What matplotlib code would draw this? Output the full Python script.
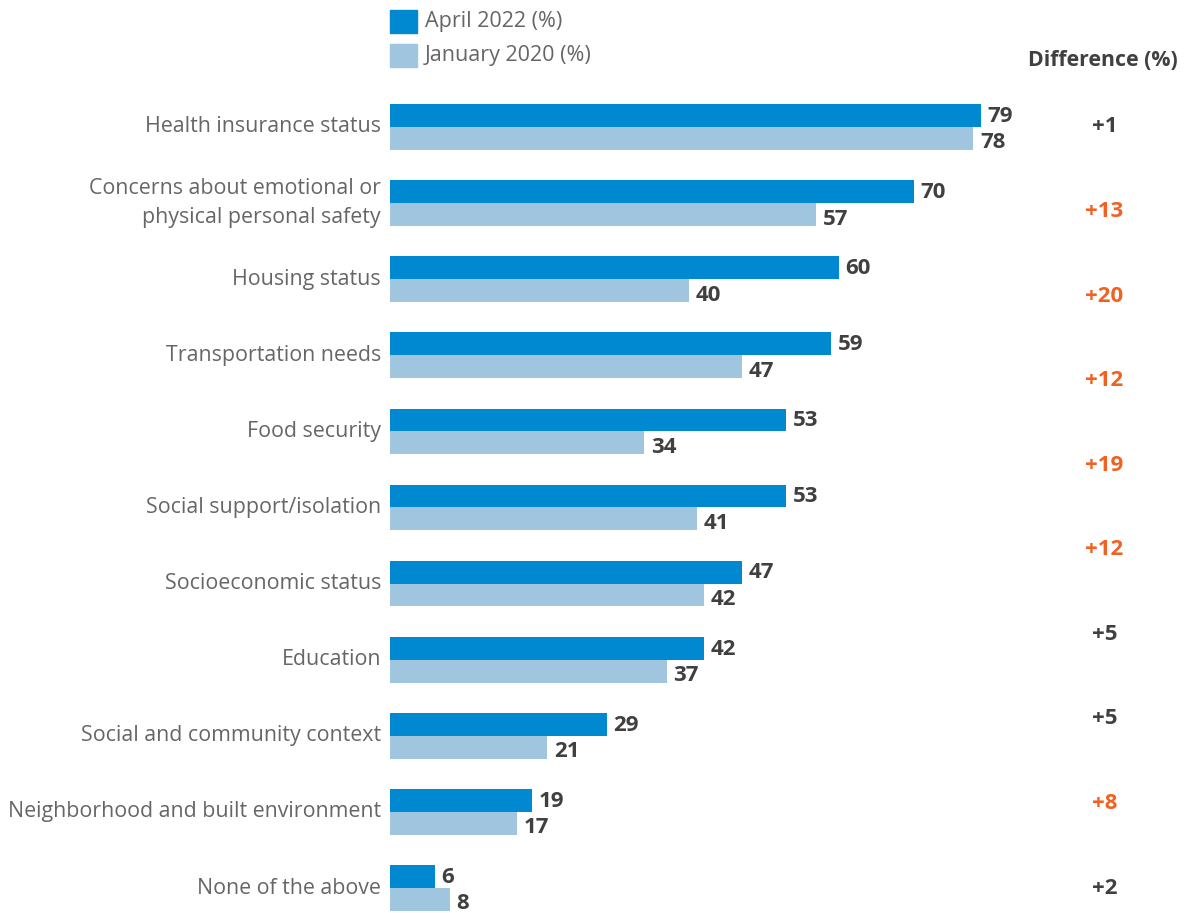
import numpy as np
import matplotlib.pyplot as plt
from matplotlib.patches import Rectangle

# ---------------------------------------------------------------------
# DATA
# ---------------------------------------------------------------------
categories = [
    "Health insurance status",
    "Concerns about emotional or\nphysical personal safety",
    "Housing status",
    "Transportation needs",
    "Food security",
    "Social support/isolation",
    "Socioeconomic status",
    "Education",
    "Social and community context",
    "Neighborhood and built environment",
    "None of the above",
]
april_2022 = [79, 70, 60, 59, 53, 53, 47, 42, 29, 19, 6]
january_2020 = [78, 57, 40, 47, 34, 41, 42, 37, 21, 17, 8]
differences = ["+1", "+13", "+20", "+12", "+19", "+12", "+5", "+5", "+8", "+2"]
highlighted = [False, True, True, True, True, True, False, False, True, False]

# ---------------------------------------------------------------------
# STYLE
# ---------------------------------------------------------------------
DARK_BLUE = "#0089d0"
LIGHT_BLUE = "#9fc5df"
LABEL_GREY = "#666666"
VALUE_GREY = "#404040"
ORANGE = "#f26122"
FONT = "Open Sans"

plt.rcParams["font.family"] = [FONT, "DejaVu Sans"]

W, H = 1185, 913
fig = plt.figure(figsize=(W / 100, H / 100), dpi=100)
ax = fig.add_axes([390 / W, 0, 1 - 390 / W, 1])

y = np.arange(len(categories))
bar_h = 0.30

ax.barh(y - bar_h / 2, april_2022, height=bar_h, color=DARK_BLUE)
ax.barh(y + bar_h / 2, january_2020, height=bar_h, color=LIGHT_BLUE)

for yi, a, j in zip(y, april_2022, january_2020):
    ax.text(a + 0.9, yi - bar_h / 2 + 0.01, str(a), ha="left", va="center",
            fontsize=16, fontweight="bold", color=VALUE_GREY)
    ax.text(j + 0.9, yi + bar_h / 2 + 0.06, str(j), ha="left", va="center",
            fontsize=16, fontweight="bold", color=VALUE_GREY)

# category labels to the left of the bars
for yi, cat in zip(y, categories):
    ax.text(-1.2, yi, cat, ha="right", va="center", fontsize=15.4,
            color=LABEL_GREY, linespacing=1.45, clip_on=False)

# difference column, spread evenly from first to last row
diff_x = 95.5
diff_y = np.linspace(0, 10, len(differences))
for dy, d, hi in zip(diff_y, differences, highlighted):
    ax.text(diff_x, dy, d, ha="center", va="center", fontsize=16,
            fontweight="bold", color=ORANGE if hi else VALUE_GREY)
ax.text((1178 - 390) / 7.48, -0.88, "Difference (%)", ha="right", va="center",
        fontsize=15.3, fontweight="bold", color=VALUE_GREY)

ax.set_xlim(0, (W - 390) / 7.48)
ax.set_ylim(10 + 25 / 76.1, -127 / 76.1)
ax.axis("off")

# legend
for i, (lab, col) in enumerate([("April 2022 (%)", DARK_BLUE),
                                ("January 2020 (%)", LIGHT_BLUE)]):
    top = 10 + i * 34
    fig.patches.append(Rectangle((390 / W, 1 - (top + 23) / H), 27 / W, 23 / H,
                                 transform=fig.transFigure, color=col))
    fig.text(425 / W, 1 - (top + 11) / H, lab, ha="left", va="center",
             fontsize=15.5, color=LABEL_GREY)

fig.savefig("out.png", dpi=100)
